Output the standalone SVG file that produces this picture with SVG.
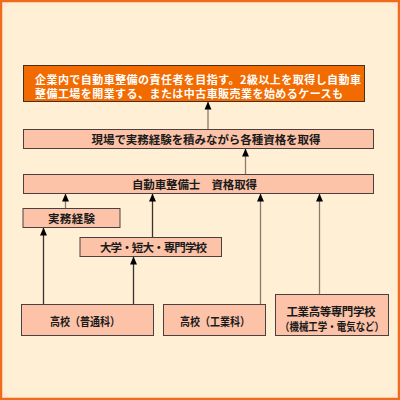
<svg xmlns="http://www.w3.org/2000/svg" width="400" height="400" viewBox="0 0 400 400">
<defs>
<style>
.box{fill:#FDC3A8;stroke:#4a4040;stroke-width:1}
.top{fill:#F26B00;stroke:#4a3020;stroke-width:1}
.t{font-family:"Noto Sans CJK JP","Noto Sans",sans-serif;font-weight:bold;font-size:11.5px;fill:#1a1a1a;dominant-baseline:central;text-anchor:middle}
.w{fill:#ffffff;text-anchor:start;font-size:11px}
.ln{stroke:#8a7a6a;stroke-width:1.3;fill:none}
.dk{stroke:#3a3030}
</style>
<marker id="ah" markerWidth="8" markerHeight="8" refX="7.5" refY="4" orient="auto" markerUnits="userSpaceOnUse" viewBox="0 0 8 8">
<path d="M0,0.5 L8,4 L0,7.5 Z" fill="#000"/>
</marker>
</defs>
<rect x="1" y="1" width="398" height="398" fill="#FFF0D5" stroke="#F26B1D" stroke-width="2.5"/>
<g id="connectors">
<line class="ln" x1="208" y1="129" x2="208" y2="102" marker-end="url(#ah)"/>
<line class="ln" x1="245.5" y1="174" x2="245.5" y2="149" marker-end="url(#ah)"/>
<line class="ln" x1="65.5" y1="208" x2="65.5" y2="194" marker-end="url(#ah)"/>
<line class="ln dk" x1="152.5" y1="237" x2="152.5" y2="194" marker-end="url(#ah)"/>
<line class="ln" x1="260.5" y1="304" x2="260.5" y2="194" marker-end="url(#ah)"/>
<line class="ln" x1="319.5" y1="294" x2="319.5" y2="194" marker-end="url(#ah)"/>
<line class="ln dk" x1="43.5" y1="304" x2="43.5" y2="228" marker-end="url(#ah)"/>
<line class="ln dk" x1="133.5" y1="304" x2="133.5" y2="257" marker-end="url(#ah)"/>
</g>
<g id="goal">
<rect class="top" x="23.5" y="65.5" width="341" height="36"/>
<text class="t w" x="35" y="78.5" textLength="326" lengthAdjust="spacing">企業内で自動車整備の責任者を目指す。2級以上を取得し自動車</text>
<text class="t w" x="35" y="93" textLength="308" lengthAdjust="spacing">整備工場を開業する、または中古車販売業を始めるケースも</text>
</g>
<g id="experience">
<rect class="box" x="23.5" y="129.5" width="350" height="19"/>
<text class="t" x="206" y="139" textLength="229" lengthAdjust="spacing">現場で実務経験を積みながら各種資格を取得</text>
</g>
<g id="license">
<rect class="box" x="23.5" y="174.5" width="350" height="19"/>
<text class="t" x="194.5" y="184" textLength="125" lengthAdjust="spacing">自動車整備士　資格取得</text>
</g>
<g id="jitsumu">
<rect class="box" x="23" y="208.5" width="97" height="19"/>
<text class="t" x="71.5" y="218" textLength="47" lengthAdjust="spacing">実務経験</text>
</g>
<g id="univ">
<rect class="box" x="80" y="237.5" width="141.5" height="19"/>
<text class="t" x="153.5" y="247" textLength="107" lengthAdjust="spacing">大学・短大・専門学校</text>
</g>
<g id="hs-general">
<rect class="box" x="21.5" y="304.5" width="132" height="31"/>
<text class="t" x="85" y="321" textLength="70" lengthAdjust="spacingAndGlyphs">高校（普通科）</text>
</g>
<g id="hs-tech">
<rect class="box" x="163.5" y="304.5" width="102" height="31"/>
<text class="t" x="215" y="321" textLength="70" lengthAdjust="spacingAndGlyphs">高校（工業科）</text>
</g>
<g id="kosen">
<rect class="box" x="275.5" y="294.5" width="113" height="41"/>
<text class="t" x="331" y="310.5" textLength="89" lengthAdjust="spacing">工業高等専門学校</text>
<text class="t" x="332" y="325.5" style="font-size:11px" textLength="104" lengthAdjust="spacingAndGlyphs">（機械工学・電気など）</text>
</g>
</svg>
